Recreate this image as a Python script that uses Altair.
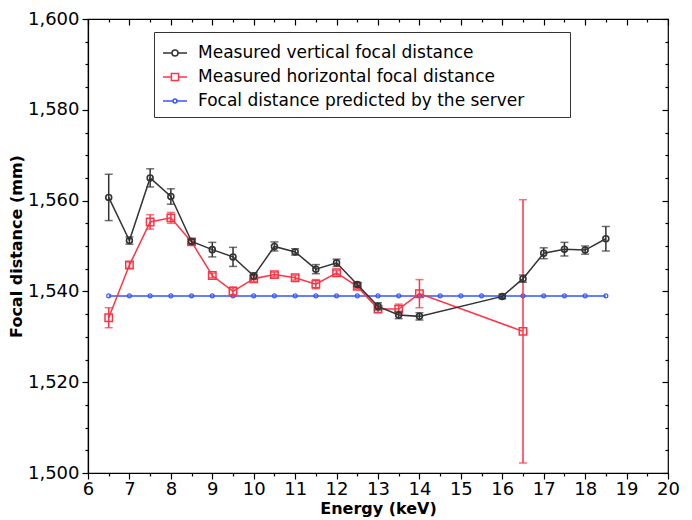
import altair as alt
import pandas as pd

# ---- data ----
energy_v = [6.5, 7, 7.5, 8, 8.5, 9, 9.5, 10, 10.5, 11, 11.5, 12, 12.5, 13, 13.5, 14,
            16, 16.5, 17, 17.5, 18, 18.5]
focal_v = [1560.7, 1551.2, 1565.0, 1560.9, 1551.0, 1549.2, 1547.6, 1543.4, 1549.9, 1548.7,
           1544.9, 1546.3, 1541.5, 1536.7, 1534.8, 1534.5, 1538.9, 1542.8, 1548.4, 1549.3,
           1549.1, 1551.6]
err_v = [5.1, 0.8, 2.0, 1.7, 0.5, 1.6, 2.1, 0.7, 1.0, 0.7, 1.0, 0.8, 0.5, 0.8, 0.8, 0.8,
         0.5, 0.8, 1.2, 1.5, 0.9, 2.7]

energy_h = [6.5, 7, 7.5, 8, 8.5, 9, 9.5, 10, 10.5, 11, 11.5, 12, 12.5, 13, 13.5, 14, 16.5]
focal_h = [1534.2, 1545.8, 1555.3, 1556.2, 1550.9, 1543.5, 1540.0, 1542.8, 1543.7, 1543.0,
           1541.6, 1544.1, 1541.1, 1536.1, 1536.1, 1539.5, 1531.2]
err_h = [2.2, 0.7, 1.6, 1.2, 0.5, 0.5, 1.0, 0.6, 0.5, 0.5, 1.0, 0.5, 0.5, 0.7, 1.1, 3.1, 29.0]

energy_p = [6.5, 7, 7.5, 8, 8.5, 9, 9.5, 10, 10.5, 11, 11.5, 12, 12.5, 13, 13.5, 14, 14.5,
            15, 15.5, 16, 16.5, 17, 17.5, 18, 18.5]
focal_p = [1539] * len(energy_p)

series_names = ["Measured vertical focal distance",
                "Measured horizontal focal distance",
                "Focal distance predicted by the server"]

x_ticks = [6, 6.5, 7, 7.5, 8, 8.5, 9, 9.5, 10, 10.5, 11, 11.5, 12, 12.5, 13, 13.5, 14, 14.5,
           15, 15.5, 16, 16.5, 17, 17.5, 18, 18.5, 19, 19.5, 20]
y_ticks = [1500, 1505, 1510, 1515, 1520, 1525, 1530, 1535, 1540, 1545, 1550, 1555, 1560,
           1565, 1570, 1575, 1580, 1585, 1590, 1595, 1600]

BLACK = "#333333"
RED = "#ff3344"
BLUE = "#3355ff"

PAD = "\u2800" * 3  # blank glyphs: trailing room inside the legend box
legend_labels = [n + PAD for n in series_names]

rows = []
for e, f, d in zip(energy_v, focal_v, err_v):
    rows.append(dict(series=series_names[0], label=legend_labels[0], energy=e, focal=f,
                     lo=f - d, hi=f + d))
for e, f, d in zip(energy_h, focal_h, err_h):
    rows.append(dict(series=series_names[1], label=legend_labels[1], energy=e, focal=f,
                     lo=f - d, hi=f + d))
for e, f in zip(energy_p, focal_p):
    rows.append(dict(series=series_names[2], label=legend_labels[2], energy=e, focal=f,
                     lo=f, hi=f))
df = pd.DataFrame(rows)

W, H = 580, 454
xscale = alt.Scale(domain=[6, 20], nice=False, zero=False)
yscale = alt.Scale(domain=[1500, 1600], nice=False, zero=False)

xaxis = alt.Axis(
    title="Energy (keV)", values=x_ticks, labelFlush=False,
    labelExpr="datum.value % 1 === 0 ? datum.value : ''",
    tickSize={"condition": {"test": "datum.value % 1 === 0", "value": 6}, "value": 3},
    labelPadding=1, titlePadding=2,
)
yaxis = alt.Axis(
    title="Focal distance (mm)", values=y_ticks, labelFlush=False,
    labelExpr="datum.value % 20 === 0 ? format(datum.value, ',') : ''",
    tickSize={"condition": {"test": "datum.value % 20 === 0", "value": 6}, "value": 3},
    labelPadding=3, titlePadding=3,
)

X = alt.X("energy:Q", scale=xscale, axis=xaxis)
Y = alt.Y("focal:Q", scale=yscale, axis=yaxis)

base = alt.Chart(df)


def sel(name):
    return base.transform_filter(alt.datum.series == name)


blue_line = sel(series_names[2]).mark_line(color=BLUE, strokeWidth=1.5).encode(x=X, y=Y)
blue_pts = sel(series_names[2]).mark_point(color=BLUE, filled=False, size=16,
                                           strokeWidth=1.2, opacity=1).encode(x=X, y=Y)

red_line = sel(series_names[1]).mark_line(color=RED, strokeWidth=1.5).encode(x=X, y=Y)
red_err = sel(series_names[1]).mark_errorbar(
    color=RED, ticks={"size": 8, "thickness": 1.5}, thickness=1.5
).encode(x=X, y=alt.Y("lo:Q", scale=yscale, axis=yaxis), y2="hi:Q")
red_pts = sel(series_names[1]).mark_point(color=RED, shape="square", filled=False, size=55,
                                          strokeWidth=1.5, opacity=1).encode(x=X, y=Y)

black_line = sel(series_names[0]).mark_line(color=BLACK, strokeWidth=1.5).encode(x=X, y=Y)
black_err = sel(series_names[0]).mark_errorbar(
    color=BLACK, ticks={"size": 8, "thickness": 1.5}, thickness=1.5
).encode(x=X, y=alt.Y("lo:Q", scale=yscale, axis=yaxis), y2="hi:Q")
black_pts = sel(series_names[0]).mark_point(color=BLACK, filled=False, size=35,
                                            strokeWidth=1.6, opacity=1).encode(x=X, y=Y)

# legend-only layer (no data drawn)
legend_paths = [
    "M-1,0L-0.25,0M0.25,0L1,0M-0.25,0A0.25,0.25 0 1,0 0.25,0A0.25,0.25 0 1,0 -0.25,0Z",
    "M-1,0L-0.3,0M0.3,0L1,0M-0.3,-0.3L0.3,-0.3L0.3,0.3L-0.3,0.3Z",
    "M-1,0L-0.16,0M0.16,0L1,0M-0.16,0A0.16,0.16 0 1,0 0.16,0A0.16,0.16 0 1,0 -0.16,0Z",
]
legend = alt.Legend(
    title=None, orient="none", legendX=66, legendY=13, padding=8,
    strokeColor="#333333", fillColor="white",
    labelFont="DejaVu Sans", labelFontSize=17, labelColor="black",
    symbolSize=576, symbolStrokeWidth=1.5, symbolFillColor="transparent",
    rowPadding=3, labelOffset=10, labelLimit=600, symbolOpacity=1,
)
legend_layer = base.transform_filter("false").mark_point(filled=False, strokeWidth=1.5).encode(
    x=X, y=Y,
    color=alt.Color("label:N", scale=alt.Scale(domain=legend_labels, range=[BLACK, RED, BLUE]),
                    legend=legend),
    shape=alt.Shape("label:N", scale=alt.Scale(domain=legend_labels, range=legend_paths),
                    legend=legend),
)

data_layers = alt.layer(blue_line, blue_pts, red_line, red_err, red_pts,
                        black_line, black_err, black_pts, legend_layer)

# mirrored inward ticks on top and right edges
frame = base.transform_filter("false").mark_point().encode(
    x=alt.X("energy:Q", scale=xscale,
            axis=alt.Axis(title=None, values=x_ticks, labels=False, domain=False,
                          orient="bottom", offset=-H,
                          tickSize={"condition": {"test": "datum.value % 1 === 0", "value": 6},
                                    "value": 3})),
    y=alt.Y("focal:Q", scale=yscale,
            axis=alt.Axis(title=None, values=y_ticks, labels=False, domain=False,
                          orient="left", offset=-W,
                          tickSize={"condition": {"test": "datum.value % 20 === 0", "value": 6},
                                    "value": 3})),
)

chart = alt.layer(data_layers, frame).resolve_scale(x="independent", y="independent").properties(
    width=W, height=H,
    autosize=alt.AutoSizeParams(type="none"),
    padding={"left": 80, "top": 11, "right": 16, "bottom": 47},
).configure_view(stroke="black", strokeWidth=1.2).configure_axis(
    grid=False, domainColor="black", tickColor="black", domainWidth=1.2, tickWidth=1.2,
    labelFont="DejaVu Sans", labelFontSize=18, labelColor="black",
    titleFont="DejaVu Sans", titleFontSize=16, titleFontWeight="bold", titleColor="black",
)

chart.save("out.html", embed_options={"renderer": "svg", "actions": False})
